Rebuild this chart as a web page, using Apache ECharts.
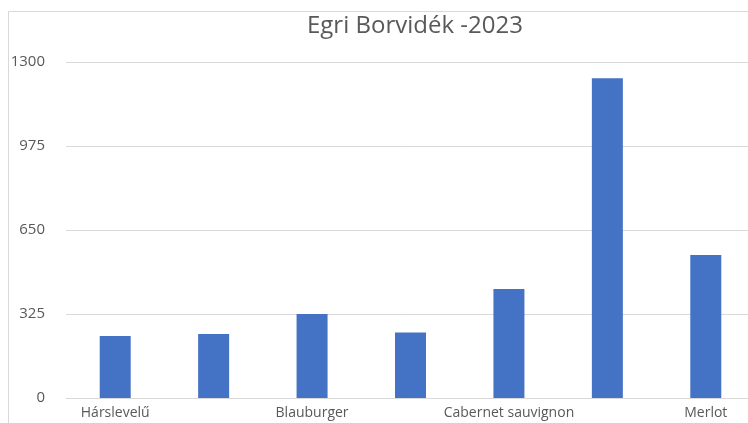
<!DOCTYPE html>
<html>
<head>
<meta charset="utf-8">
<script src="https://cdn.jsdelivr.net/npm/echarts@6/dist/echarts.min.js"></script>
<style>
html,body{margin:0;padding:0;background:#fff;}
#chart{width:748px;height:423px;}
</style>
</head>
<body>
<div id="chart"></div>
<script>
const titleText = 'Egri Borvidék -2023';
const categories = ['Hárslevelű', 'Olaszrizling', 'Blauburger', 'Cabernet franc', 'Cabernet sauvignon', 'Kékfrankos', 'Merlot'];
const values = [240, 248, 325, 253, 422, 1237, 553];
const yTicks = [0, 325, 650, 975, 1300];

const chart = echarts.init(document.getElementById('chart'), null, {renderer: 'canvas'});
chart.setOption({
  animation: false,
  backgroundColor: '#ffffff',
  graphic: [{
    type: 'rect',
    shape: {x: 8.5, y: 11.5, width: 900, height: 600},
    style: {fill: 'none', stroke: '#d9d9d9', lineWidth: 1},
    silent: true, z: -1
  }],
  title: {
    text: titleText,
    left: 302,
    top: 9,
    textStyle: {fontFamily: 'Open Sans', fontSize: 24, fontWeight: 'normal', color: '#595959'}
  },
  grid: {left: 66, right: -7, top: 62, bottom: 25, outerBoundsMode: 'none'},
  xAxis: {
    type: 'category',
    data: categories,
    axisLine: {lineStyle: {color: '#d9d9d9', width: 1}},
    axisTick: {show: false},
    axisLabel: {interval: 1, margin: 8, fontFamily: 'Open Sans', fontSize: 14, color: '#595959'}
  },
  yAxis: {
    type: 'value',
    min: yTicks[0],
    max: yTicks[yTicks.length - 1],
    interval: yTicks[1] - yTicks[0],
    axisLine: {show: false},
    axisTick: {show: false},
    splitLine: {lineStyle: {color: '#d9d9d9', width: 1}},
    axisLabel: {margin: 21, fontFamily: 'Open Sans', fontSize: 15, color: '#595959', formatter: function (v) { return String(v); }}
  },
  series: [{
    type: 'bar',
    data: values,
    barWidth: 31,
    itemStyle: {color: '#4472C4'}
  }]
});
</script>
</body>
</html>
